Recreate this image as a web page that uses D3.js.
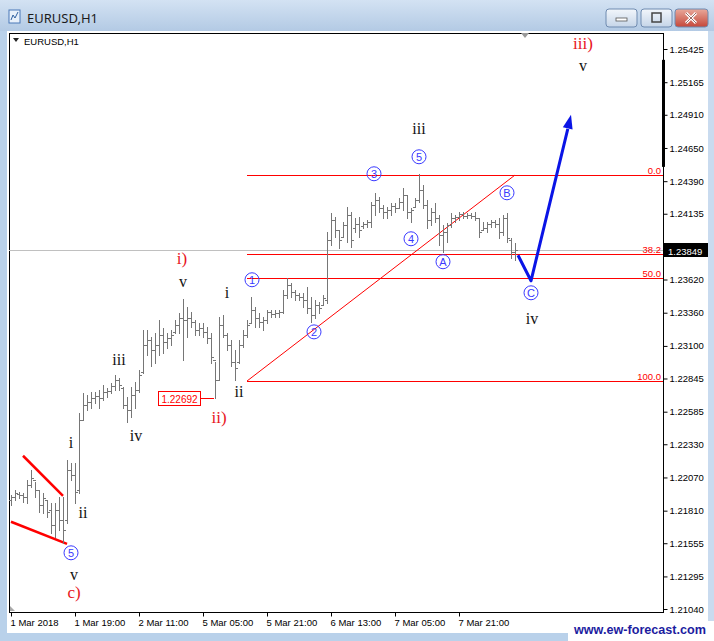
<!DOCTYPE html>
<html><head><meta charset="utf-8">
<script src="https://cdn.jsdelivr.net/npm/d3@7"></script>
<style>body{margin:0;background:#b9d1ea;} svg{display:block}</style>
</head><body>
<svg id="c" width="714" height="641"></svg>
<script>
// ---------- DATA ----------
const opens = [1.21894,1.21917,1.21941,1.21933,1.21917,1.22011,1.22050,1.21972,1.21855,1.21894,1.21815,1.21698,1.21815,1.21737,1.21737,1.22129,1.22090,1.21972,1.22520,1.22638,1.22661,1.22692,1.22708,1.22692,1.22740,1.22748,1.22787,1.22834,1.22771,1.22638,1.22599,1.22716,1.22755,1.22896,1.23107,1.23147,1.23068,1.23107,1.23186,1.23131,1.23162,1.23209,1.23264,1.23319,1.23303,1.23319,1.23287,1.23225,1.23240,1.23209,1.23162,1.22990,1.22834,1.23264,1.23186,1.23107,1.22974,1.22974,1.23107,1.23186,1.23280,1.23382,1.23319,1.23287,1.23303,1.23366,1.23350,1.23358,1.23366,1.23499,1.23577,1.23523,1.23499,1.23483,1.23460,1.23397,1.23343,1.23421,1.23421,1.23460,1.23930,1.24086,1.24008,1.23953,1.24047,1.24125,1.24023,1.24055,1.24039,1.24055,1.24070,1.24204,1.24243,1.24180,1.24149,1.24165,1.24196,1.24180,1.24227,1.24282,1.24149,1.24188,1.24243,1.24321,1.24204,1.24086,1.24149,1.24102,1.23969,1.23992,1.24047,1.24102,1.24110,1.24133,1.24118,1.24125,1.24118,1.24102,1.24008,1.24023,1.24055,1.24070,1.24055,1.23992,1.24102,1.23930,1.23836];
const highs = [1.21933,1.21972,1.21956,1.21949,1.22050,1.22129,1.22034,1.21972,1.21949,1.21894,1.21870,1.21870,1.21917,1.21917,1.22207,1.22184,1.22184,1.22576,1.22732,1.22716,1.22740,1.22740,1.22755,1.22795,1.22771,1.22810,1.22873,1.22850,1.22779,1.22700,1.22779,1.22818,1.22912,1.23225,1.23225,1.23170,1.23201,1.23303,1.23240,1.23201,1.23225,1.23303,1.23358,1.23468,1.23405,1.23366,1.23303,1.23280,1.23280,1.23248,1.23201,1.22974,1.23327,1.23343,1.23201,1.23147,1.23068,1.23147,1.23225,1.23303,1.23483,1.23405,1.23358,1.23327,1.23382,1.23382,1.23382,1.23382,1.23538,1.23632,1.23593,1.23538,1.23515,1.23515,1.23562,1.23483,1.23460,1.23444,1.23499,1.23992,1.24141,1.24110,1.24008,1.24070,1.24188,1.24149,1.24102,1.24110,1.24070,1.24086,1.24227,1.24298,1.24266,1.24204,1.24188,1.24220,1.24220,1.24259,1.24337,1.24282,1.24180,1.24259,1.24447,1.24361,1.24243,1.24180,1.24220,1.24125,1.24047,1.24063,1.24141,1.24125,1.24149,1.24149,1.24141,1.24141,1.24149,1.24102,1.24070,1.24070,1.24086,1.24086,1.24102,1.24125,1.24141,1.23945,1.23906];
const lows = [1.21855,1.21894,1.21910,1.21878,1.21870,1.21995,1.21917,1.21799,1.21792,1.21760,1.21636,1.21604,1.21659,1.21557,1.21714,1.22050,1.21870,1.21949,1.22520,1.22599,1.22614,1.22653,1.22614,1.22677,1.22700,1.22732,1.22755,1.22755,1.22614,1.22504,1.22544,1.22614,1.22740,1.22889,1.23029,1.22943,1.22967,1.23029,1.23045,1.23084,1.23107,1.23201,1.23201,1.22990,1.23170,1.23248,1.23186,1.23186,1.23170,1.23123,1.22967,1.22692,1.22834,1.23170,1.23068,1.22943,1.22834,1.22967,1.23092,1.23170,1.23280,1.23248,1.23248,1.23225,1.23280,1.23327,1.23327,1.23327,1.23358,1.23476,1.23483,1.23460,1.23460,1.23405,1.23358,1.23287,1.23319,1.23358,1.23421,1.23436,1.23891,1.23953,1.23867,1.23953,1.23914,1.23875,1.23993,1.23953,1.24023,1.24031,1.24031,1.24125,1.24149,1.24102,1.24102,1.24125,1.24149,1.24180,1.24165,1.24102,1.24070,1.24188,1.24227,1.24180,1.24023,1.24047,1.24070,1.23891,1.23836,1.23914,1.24031,1.24070,1.24086,1.24102,1.24102,1.24102,1.24086,1.23953,1.24008,1.23992,1.24031,1.24031,1.23945,1.23969,1.23914,1.23788,1.23773];
const closes = [1.21917,1.21949,1.21933,1.21917,1.22011,1.22066,1.21972,1.21855,1.21910,1.21799,1.21698,1.21815,1.21737,1.21659,1.22129,1.22090,1.21956,1.22520,1.22638,1.22661,1.22692,1.22708,1.22692,1.22740,1.22748,1.22787,1.22834,1.22795,1.22638,1.22599,1.22716,1.22755,1.22873,1.23107,1.23147,1.23068,1.23107,1.23186,1.23131,1.23162,1.23186,1.23264,1.23319,1.23303,1.23319,1.23287,1.23225,1.23240,1.23209,1.23162,1.23013,1.22834,1.23264,1.23186,1.23107,1.22974,1.22927,1.23107,1.23186,1.23264,1.23382,1.23319,1.23287,1.23303,1.23366,1.23350,1.23358,1.23366,1.23499,1.23577,1.23523,1.23499,1.23483,1.23460,1.23397,1.23343,1.23421,1.23397,1.23476,1.23930,1.24086,1.24008,1.23930,1.24047,1.24125,1.23930,1.24055,1.24008,1.24055,1.24070,1.24204,1.24243,1.24180,1.24149,1.24165,1.24196,1.24180,1.24227,1.24282,1.24149,1.24165,1.24243,1.24321,1.24204,1.24086,1.24149,1.24102,1.23969,1.23992,1.24047,1.24102,1.24110,1.24133,1.24118,1.24125,1.24118,1.24102,1.23992,1.24023,1.24055,1.24070,1.24055,1.23992,1.24102,1.23945,1.23836,1.23849];

const timeLabels = ["1 Mar 2018","1 Mar 19:00","2 Mar 11:00","5 Mar 05:00","5 Mar 21:00","6 Mar 13:00","7 Mar 05:00","7 Mar 21:00"];
const timeLabelIdx = [0,16,32,48,64,80,96,112];
const priceTicks = [1.25425,1.25165,1.24910,1.24650,1.24390,1.24135,1.23875,1.23620,1.23360,1.23100,1.22845,1.22585,1.22330,1.22070,1.21810,1.21555,1.21295,1.21040];
const currentPrice = 1.23849;
const fibLevels = [0, 38.2, 50, 100];
const fibHigh = 1.24438, fibLow = 1.22825, fibStartIdx = 59, fibEndIdx = 126;
const lowMarkIdx = 51, lowMarkPrice = 1.22692;
const projection = [[126.75,1.2381],[130,1.2361],[140,1.2491]];
const wedgeUpper = [[3,1.22240],[13,1.21926]];
const wedgeLower = [[0,1.21723],[14,1.21550]];
const blackLabels = [["iii",102,1.24800],["v",143,1.25293],["iv",130.25,1.23312],["v",43,1.23602],["i",54,1.23516],["ii",57,1.22741],["iii",27,1.22991],["iv",31.25,1.22396],["i",15,1.22341],["ii",18,1.21793],["v",15.75,1.21308]];
const redLabels = [["iii)",143,1.25466],["i)",42.75,1.23782],["ii)",52,1.22537],["c)",15.75,1.21167]];
const circleLabels = [["5",102,1.24581],["3",90.75,1.24448],["B",124,1.24299],["4",100,1.23939],["A",108,1.23759],["C",130,1.23516],["1",60.25,1.23618],["2",75.75,1.23210],["5",15,1.21480]];

// ---------- SETUP ----------
const svg = d3.select("#c");
const L = 9, R = 663, T = 33, B = 612;
const x = d3.scaleLinear().domain([0,126]).range([11,515]);
const y = d3.scaleLinear().domain([1.21040,1.25425]).range([609,49]);

// window chrome
const defs = svg.append("defs");
const g1 = defs.append("linearGradient").attr("id","tb").attr("x1",0).attr("y1",0).attr("x2",0).attr("y2",1);
g1.append("stop").attr("offset","0").attr("stop-color","#d3e2f3");
g1.append("stop").attr("offset","1").attr("stop-color","#b3cae4");
const g2 = defs.append("linearGradient").attr("id","btn").attr("x1",0).attr("y1",0).attr("x2",0).attr("y2",1);
g2.append("stop").attr("offset","0").attr("stop-color","#f2f6fb");
g2.append("stop").attr("offset","1").attr("stop-color","#c5d5e8");
const g3 = defs.append("linearGradient").attr("id","cls").attr("x1",0).attr("y1",0).attr("x2",0).attr("y2",1);
g3.append("stop").attr("offset","0").attr("stop-color","#e9a99b");
g3.append("stop").attr("offset","1").attr("stop-color","#c5473a");

svg.append("rect").attr("width",714).attr("height",641).attr("fill","#b9d1ea");
svg.append("rect").attr("width",714).attr("height",31).attr("fill","url(#tb)");
svg.append("rect").attr("x",708).attr("y",31).attr("width",6).attr("height",610).attr("fill","#c9dbef");
svg.append("rect").attr("x",7).attr("y",31).attr("width",701).attr("height",602).attr("fill","#fff");
svg.append("rect").attr("x",568).attr("y",621).attr("width",146).attr("height",20).attr("fill","#fff");

// title icon & text
svg.append("rect").attr("x",9).attr("y",10).attr("width",11).attr("height",13).attr("fill","#e8f0fa").attr("stroke","#4a78b8");
svg.append("path").attr("d","M11,20 L13,15 L15,18 L18,12").attr("fill","none").attr("stroke","#3060a0");
svg.append("text").attr("x",27).attr("y",23).text("EURUSD,H1")
  .attr("font-family","'Noto Sans','DejaVu Sans',sans-serif").attr("font-size",13).attr("fill","#1b1b1b");
// buttons
[[606,31,"url(#btn)"],[641,31,"url(#btn)"],[675,33,"url(#cls)"]].forEach(([bx,bw,f])=>{
  svg.append("rect").attr("x",bx).attr("y",9).attr("width",bw).attr("height",18).attr("rx",3)
    .attr("fill",f).attr("stroke","#6f8bb0");
});
svg.append("rect").attr("x",616).attr("y",18).attr("width",11).attr("height",3).attr("fill","#fff").attr("stroke","#555").attr("stroke-width",0.8);
svg.append("rect").attr("x",652).attr("y",13).attr("width",9).attr("height",9).attr("fill","none").attr("stroke","#444").attr("stroke-width",1.5);
svg.append("path").attr("d","M686,13 L696,23 M696,13 L686,23").attr("stroke","#fff").attr("stroke-width",3);
svg.append("path").attr("d","M686,13 L696,23 M696,13 L686,23").attr("stroke","#6a2a24").attr("stroke-width",0.7);

// plot frame
svg.append("rect").attr("x",L+0.5).attr("y",T+0.5).attr("width",R-L).attr("height",B-T)
  .attr("fill","none").attr("stroke","#000");

// chart header
svg.append("path").attr("d","M13,38 L19,38 L16,42 Z").attr("fill","#222");
svg.append("text").attr("x",24).attr("y",45).text("EURUSD,H1")
  .attr("font-family","'Liberation Sans',Arial,sans-serif").attr("font-size",9.5).attr("fill","#000");
svg.append("path").attr("d","M521,33 L529,33 L525,38 Z").attr("fill","#999");
svg.append("path").attr("d","M10,606 L10,611 L15,611 Z").attr("fill","#aaa");

// axes
const yAxis = d3.axisRight(y).tickValues(priceTicks).tickFormat(d3.format(".5f")).tickSize(4).tickPadding(2);
const ya = svg.append("g").attr("transform",`translate(${R+0.5},0)`).call(yAxis);
ya.select(".domain").remove();
ya.selectAll("text").attr("font-family","'Liberation Sans',Arial,sans-serif").attr("font-size",9.5).attr("fill","#000");
ya.selectAll("line").attr("stroke","#000");

const xAxis = d3.axisBottom(x).tickValues(timeLabelIdx).tickFormat((d,i)=>timeLabels[i]).tickSize(4).tickPadding(3);
const xa = svg.append("g").attr("transform",`translate(0,${B+0.5})`).call(xAxis);
xa.select(".domain").remove();
xa.selectAll("text").attr("text-anchor","start").attr("dx",-1)
  .attr("font-family","'Liberation Sans',Arial,sans-serif").attr("font-size",9.5).attr("fill","#000");
xa.selectAll("line").attr("stroke","#000");

// right-axis black marker
svg.append("rect").attr("x",R-1).attr("y",y(1.25340)).attr("width",3).attr("height",y(1.24502)-y(1.25340)).attr("fill","#000");

// current price line
const cpY = Math.round(y(currentPrice))+0.5;
svg.append("line").attr("x1",L).attr("x2",R).attr("y1",cpY).attr("y2",cpY).attr("stroke","#c0c0c0");

// fib lines
const fibG = svg.append("g");
fibLevels.forEach(lv=>{
  const p = fibHigh - (fibHigh-fibLow)*lv/100;
  const yy = Math.round(y(p))+0.5;
  fibG.append("line").attr("x1",x(fibStartIdx)).attr("x2",R).attr("y1",yy).attr("y2",yy).attr("stroke","#ff0000");
  fibG.append("text").attr("x",R-2).attr("y",yy-2).attr("text-anchor","end").text(lv===0?"0.0":lv.toFixed(1))
    .attr("font-family","'Liberation Sans',Arial,sans-serif").attr("font-size",9.5).attr("fill","#ff0000");
});
// trendline
svg.append("line").attr("x1",x(fibStartIdx)).attr("y1",y(fibLow)).attr("x2",x(fibEndIdx)).attr("y2",y(fibHigh))
  .attr("stroke","#ff0000").attr("stroke-width",1);

// wedge lines
[wedgeUpper, wedgeLower].forEach(w=>{
  svg.append("line").attr("x1",x(w[0][0])).attr("y1",y(w[0][1])).attr("x2",x(w[1][0])).attr("y2",y(w[1][1]))
    .attr("stroke","#ff0000").attr("stroke-width",2.5);
});

// bars
const bars = svg.append("g").attr("stroke","#767676").attr("stroke-width",1).attr("shape-rendering","crispEdges");
opens.forEach((o,i)=>{
  const bx = Math.round(x(i))+0.5;
  bars.append("line").attr("x1",bx).attr("x2",bx).attr("y1",Math.round(y(highs[i]))).attr("y2",Math.round(y(lows[i]))+1);
  const oy = Math.round(y(o))+0.5, cy = Math.round(y(closes[i]))+0.5;
  bars.append("line").attr("x1",bx-2.5).attr("x2",bx).attr("y1",oy).attr("y2",oy);
  bars.append("line").attr("x1",bx).attr("x2",bx+2.5).attr("y1",cy).attr("y2",cy);
});

// current price label
svg.append("rect").attr("x",R+1).attr("y",cpY-7.5).attr("width",44).attr("height",14).attr("fill","#000");
svg.append("text").attr("x",R+5).attr("y",cpY+4).text(currentPrice.toFixed(5))
  .attr("font-family","'Liberation Sans',Arial,sans-serif").attr("font-size",9.5).attr("fill","#fff");

// low mark label
const lmY = Math.round(y(lowMarkPrice))+0.5;
svg.append("line").attr("x1",200).attr("x2",x(lowMarkIdx)-1).attr("y1",lmY).attr("y2",lmY).attr("stroke","#ff0000");
svg.append("rect").attr("x",158.5).attr("y",lmY-7).attr("width",42).attr("height",14).attr("fill","#fff").attr("stroke","#ff0000");
svg.append("text").attr("x",179.5).attr("y",lmY+4).attr("text-anchor","middle").text(lowMarkPrice.toFixed(5))
  .attr("font-family","'Liberation Sans',Arial,sans-serif").attr("font-size",10).attr("fill","#ff0000");

// projection arrow
const pl = d3.line().x(d=>x(d[0])).y(d=>y(d[1]));
svg.append("path").attr("d",pl(projection.slice(0,2).concat([[139.2,1.2480]]))).attr("fill","none")
  .attr("stroke","#0a14e6").attr("stroke-width",3).attr("stroke-linejoin","round");
(function(){
  const a = projection[1], b = projection[2];
  const x1=x(a[0]), y1=y(a[1]), x2=x(b[0]), y2=y(b[1]);
  const ang = Math.atan2(y2-y1,x2-x1), len=14, half=5;
  const bxp = x2 - len*Math.cos(ang), byp = y2 - len*Math.sin(ang);
  const px = -Math.sin(ang)*half, py = Math.cos(ang)*half;
  svg.append("path").attr("d",`M${x2},${y2} L${bxp+px},${byp+py} L${bxp-px},${byp-py} Z`).attr("fill","#0a14e6");
})();

// wave labels
const serif = "'Liberation Serif','Times New Roman',serif";
blackLabels.forEach(([t,i,p])=>{
  svg.append("text").attr("x",x(i)).attr("y",y(p)).attr("dy","0.32em").attr("text-anchor","middle").text(t)
    .attr("font-family",serif).attr("font-size",16).attr("fill","#111");
});
redLabels.forEach(([t,i,p])=>{
  svg.append("text").attr("x",x(i)).attr("y",y(p)).attr("dy","0.32em").attr("text-anchor","middle").text(t)
    .attr("font-family",serif).attr("font-size",17).attr("fill","#e8141c");
});
circleLabels.forEach(([t,i,p])=>{
  const cx = x(i), cy = y(p);
  svg.append("circle").attr("cx",cx).attr("cy",cy).attr("r",7).attr("fill","none").attr("stroke","#3a3aff").attr("stroke-width",1);
  svg.append("text").attr("x",cx).attr("y",cy).attr("dy","0.36em").attr("text-anchor","middle").text(t)
    .attr("font-family","'Liberation Sans',Arial,sans-serif").attr("font-size",11).attr("fill","#3a3aff");
});

// watermark
svg.append("text").attr("x",706).attr("y",634).attr("text-anchor","end").text("www.ew-forecast.com")
  .attr("font-family","'Liberation Sans',Arial,sans-serif").attr("font-size",13.5).attr("font-weight","bold")
  .attr("textLength",132).attr("lengthAdjust","spacingAndGlyphs").attr("fill","#1c1ca0");
</script>
</body></html>
